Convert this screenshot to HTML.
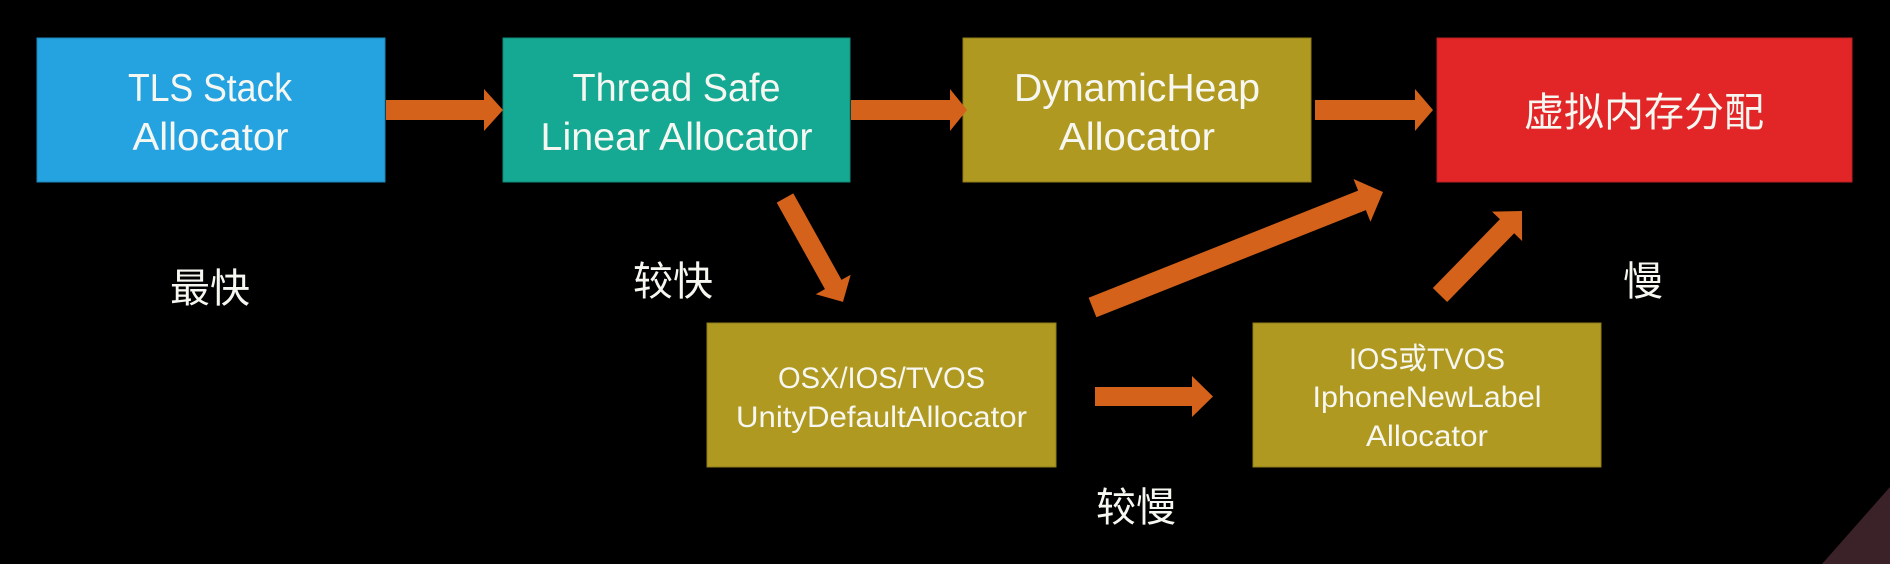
<!DOCTYPE html>
<html>
<head>
<meta charset="utf-8">
<style>
  html, body { margin: 0; padding: 0; background: #000; }
  body { width: 1890px; height: 564px; overflow: hidden; }
  svg { display: block; }
  text { font-family: "Liberation Sans", "Noto Sans CJK SC", sans-serif; fill: #f7f7f2; }
</style>
</head>
<body>
<svg width="1890" height="564" viewBox="0 0 1890 564" xmlns="http://www.w3.org/2000/svg">
  <rect x="0" y="0" width="1890" height="564" fill="#000"/>
  <!-- corner triangle -->
  <polygon points="1890,487 1890,564 1822,564" fill="#3a2228"/>

  <!-- boxes -->
  <rect x="37" y="38" width="348" height="144" fill="#25a3e1" stroke="#1e86b8" stroke-width="1"/>
  <rect x="503" y="38" width="347" height="144" fill="#15a994" stroke="#118a79" stroke-width="1"/>
  <rect x="963" y="38" width="348" height="144" fill="#af9920" stroke="#8f7d1a" stroke-width="1"/>
  <rect x="1437" y="38" width="415" height="144" fill="#e22628" stroke="#b81f21" stroke-width="1"/>
  <rect x="707" y="323" width="349" height="144" fill="#af9920" stroke="#8f7d1a" stroke-width="1"/>
  <rect x="1253" y="323" width="348" height="144" fill="#af9920" stroke="#8f7d1a" stroke-width="1"/>

  <!-- arrows -->
  <g fill="#d4621a">
    <polygon points="386,100 484,100 484,89 503,110 484,131 484,120 386,120"/>
    <polygon points="851,100 950,100 950,89 967,110 950,131 950,120 851,120"/>
    <polygon points="1315,100 1415,100 1415,89 1433,110 1415,131 1415,120 1315,120"/>
    <polygon points="1095,387 1192,387 1192,376 1213,396.5 1192,417 1192,406 1095,406"/>
    <g transform="translate(785,198) rotate(60.85)">
      <polygon points="0,-9.5 99,-9.5 99,-20 119,0 99,20 99,9.5 0,9.5"/>
    </g>
    <g transform="translate(1092.5,307.5) rotate(-21.68)">
      <polygon points="0,-10.5 290,-10.5 290,-23 312.6,0 290,23 290,10.5 0,10.5"/>
    </g>
    <g transform="translate(1440,295) rotate(-45.7)">
      <polygon points="0,-10 96,-10 96,-21 117.4,0 96,21 96,10 0,10"/>
    </g>
  </g>

  <!-- box texts -->
  <g font-size="39" text-anchor="middle">
    <text x="210" y="101" textLength="164" lengthAdjust="spacingAndGlyphs">TLS Stack</text>
    <text x="210.5" y="150" textLength="156" lengthAdjust="spacingAndGlyphs">Allocator</text>
    <text x="676.5" y="101" textLength="208" lengthAdjust="spacingAndGlyphs">Thread Safe</text>
    <text x="676.5" y="150" textLength="272" lengthAdjust="spacingAndGlyphs">Linear Allocator</text>
    <text x="1137" y="101" textLength="246" lengthAdjust="spacingAndGlyphs">DynamicHeap</text>
    <text x="1137" y="150" textLength="156" lengthAdjust="spacingAndGlyphs">Allocator</text>
  </g>
  <text x="1644" y="126" font-size="40" text-anchor="middle">虚拟内存分配</text>

  <g font-size="30" text-anchor="middle">
    <text x="881.5" y="388" textLength="207" lengthAdjust="spacingAndGlyphs">OSX/IOS/TVOS</text>
    <text x="881.5" y="427" textLength="291" lengthAdjust="spacingAndGlyphs">UnityDefaultAllocator</text>
    <text x="1427" y="369" textLength="156" lengthAdjust="spacingAndGlyphs">IOS或TVOS</text>
    <text x="1427" y="407" textLength="229" lengthAdjust="spacingAndGlyphs">IphoneNewLabel</text>
    <text x="1427" y="446" textLength="122" lengthAdjust="spacingAndGlyphs">Allocator</text>
  </g>

  <!-- speed labels -->
  <g font-size="40" text-anchor="middle">
    <text x="210" y="302">最快</text>
    <text x="673" y="295">较快</text>
    <text x="1643" y="295">慢</text>
    <text x="1136" y="521">较慢</text>
  </g>
</svg>
</body>
</html>
